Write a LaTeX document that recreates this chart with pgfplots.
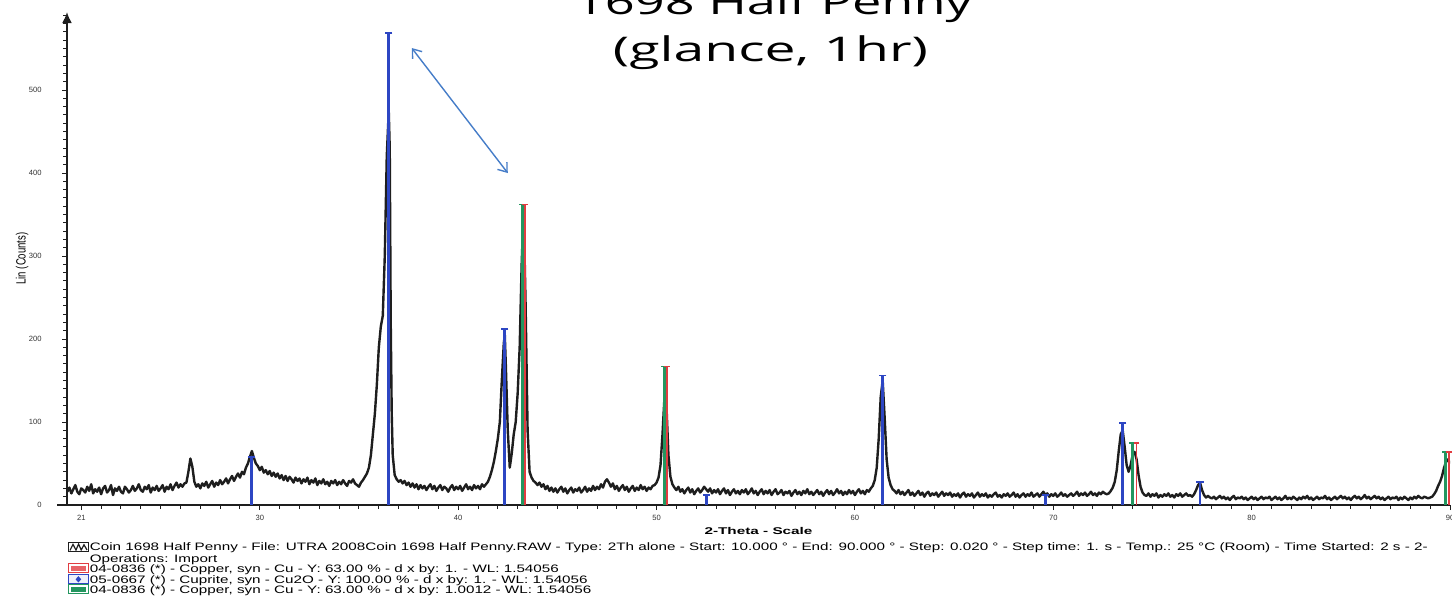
\documentclass[border=0pt]{standalone}
\usepackage{fontspec}
\setmainfont{Liberation Sans}
\newfontfamily\titlefont{Open Sans}
\usepackage{graphicx}
\usepackage{pgfplots}
\pgfplotsset{compat=1.18}
\usetikzlibrary{arrows.meta}
\definecolor{trace}{RGB}{30,30,30}
\definecolor{cuBlue}{RGB}{45,70,195}
\definecolor{cuRed}{RGB}{225,60,65}
\definecolor{cuGreen}{RGB}{35,150,95}
\definecolor{annot}{RGB}{70,125,200}
\newcommand\legfont{\fontsize{5.4}{6}\selectfont}
\newlength\Lw
\newcommand\lineone{Coin 1698 Half Penny - File: UTRA 2008Coin 1698 Half Penny.RAW - Type: 2Th alone - Start: 10.000 ° - End: 90.000 ° - Step: 0.020 ° - Step time: 1. s - Temp.: 25 °C (Room) - Time Started: 2 s - 2-}
\begin{document}
\settowidth{\Lw}{\legfont\lineone}%
\pgfmathsetmacro{\legscale}{669/\Lw}%
\begin{tikzpicture}
\path[use as bounding box] (0,0) rectangle (726pt,300pt);
\begin{axis}[
  at={(33.5pt,47.5pt)}, anchor=south west,
  scale only axis, width=691.5pt, height=246.5pt,
  xmin=20.28, xmax=90, ymin=0, ymax=594,
  axis x line=bottom, axis y line=left,
  axis line style={line width=1pt, trace},
  x axis line style={-, shorten <=-5pt},
  y axis line style={-{Latex[length=5.5pt,width=5pt]}},
  xtick={21,30,40,50,60,70,80,90},
  minor xtick={21,22,...,90},
  ytick={0,100,...,500},
  minor ytick={0,10,...,590},
  tick align=outside,
  major tick length=2.5pt, minor tick length=2pt,
  tick style={trace, line width=0.5pt},
  /pgf/number format/assume math mode=true,
  tick label style={font=\fontsize{3.8}{4}\selectfont, text=black!80, inner sep=0pt},
  yticklabel style={anchor=east, xshift=-10pt},
  xticklabel style={anchor=north, yshift=-2.2pt},
  xlabel={\resizebox{54pt}{\height}{\bfseries\fontsize{4.9}{5}\selectfont 2-Theta - Scale}},
  xlabel style={at={(axis description cs:0.5,0)}, anchor=base, yshift=-14.75pt, inner sep=0pt},
  ylabel={\resizebox{26pt}{1.4\height}{\fontsize{4.8}{5}\selectfont Lin (Counts)}},
  ylabel style={at={(axis description cs:-0.0325,0.5)}, anchor=center, inner sep=0pt},
]
\addplot[line width=1.2pt, color=trace, line join=round] coordinates {
(20.3,16) (20.4,21) (20.5,14) (20.6,19) (20.7,24) (20.8,16) (20.9,13) (21.0,20) (21.1,18) (21.2,15)
(21.3,22) (21.4,17) (21.5,25) (21.6,14) (21.7,19) (21.8,16) (21.9,21) (22.0,13) (22.1,20) (22.2,23)
(22.3,15) (22.4,18) (22.5,24) (22.6,12) (22.7,20) (22.8,17) (22.9,22) (23.0,16) (23.1,14) (23.2,22)
(23.3,19) (23.4,15) (23.5,18) (23.6,23) (23.7,17) (23.8,20) (23.9,25) (24.0,18) (24.1,16) (24.2,22)
(24.3,19) (24.4,24) (24.5,15) (24.6,21) (24.7,18) (24.8,23) (24.9,17) (25.0,20) (25.1,24) (25.2,16)
(25.3,22) (25.4,19) (25.5,25) (25.6,18) (25.7,23) (25.8,27) (25.9,21) (26.0,25) (26.1,22) (26.2,26)
(26.3,27) (26.4,40) (26.5,56) (26.6,46) (26.7,28) (26.8,22) (26.9,25) (27.0,20) (27.1,26) (27.2,23)
(27.3,28) (27.4,21) (27.5,25) (27.6,29) (27.7,22) (27.8,27) (27.9,24) (28.0,30) (28.1,25) (28.2,28)
(28.3,32) (28.4,26) (28.5,31) (28.6,35) (28.7,29) (28.8,34) (28.9,38) (29.0,33) (29.1,40) (29.2,37)
(29.3,45) (29.4,50) (29.5,58) (29.6,65) (29.7,57) (29.8,50) (29.9,47) (30.0,42) (30.1,46) (30.2,39)
(30.3,42) (30.4,37) (30.5,41) (30.6,35) (30.7,39) (30.8,34) (30.9,38) (31.0,32) (31.1,36) (31.2,30)
(31.3,35) (31.4,29) (31.5,34) (31.6,31) (31.7,27) (31.8,33) (31.9,29) (32.0,32) (32.1,26) (32.2,31)
(32.3,28) (32.4,33) (32.5,25) (32.6,30) (32.7,27) (32.8,32) (32.9,24) (33.0,29) (33.1,26) (33.2,31)
(33.3,25) (33.4,28) (33.5,23) (33.6,29) (33.7,26) (33.8,30) (33.9,24) (34.0,28) (34.1,25) (34.2,30)
(34.3,26) (34.4,23) (34.5,29) (34.6,27) (34.7,31) (34.8,26) (34.9,24) (35.0,22) (35.1,27) (35.2,30)
(35.3,34) (35.4,38) (35.5,45) (35.6,60) (35.7,85) (35.8,110) (35.9,145) (36.0,190) (36.1,215) (36.2,228)
(36.3,300) (36.4,420) (36.5,475) (36.55,430) (36.6,220) (36.65,110) (36.7,60) (36.8,36) (36.9,31) (37.0,28)
(37.1,30) (37.2,26) (37.3,29) (37.4,24) (37.5,27) (37.6,22) (37.7,26) (37.8,21) (37.9,25) (38.0,19)
(38.1,24) (38.2,20) (38.3,23) (38.4,18) (38.5,22) (38.6,25) (38.7,19) (38.8,23) (38.9,17) (39.0,21)
(39.1,24) (39.2,18) (39.3,22) (39.4,20) (39.5,16) (39.6,21) (39.7,24) (39.8,18) (39.9,22) (40.0,19)
(40.1,23) (40.2,17) (40.3,21) (40.4,25) (40.5,19) (40.6,22) (40.7,18) (40.8,24) (40.9,20) (41.0,23)
(41.1,19) (41.2,25) (41.3,22) (41.4,25) (41.5,28) (41.6,34) (41.7,42) (41.8,52) (41.9,65) (42.0,80)
(42.1,100) (42.2,150) (42.3,195) (42.35,205) (42.4,170) (42.5,90) (42.6,45) (42.7,62) (42.8,85) (42.9,100)
(43.0,135) (43.1,190) (43.2,290) (43.3,358) (43.4,240) (43.5,90) (43.6,40) (43.7,33) (43.8,29) (43.9,27)
(44.0,24) (44.1,27) (44.2,22) (44.3,25) (44.4,19) (44.5,23) (44.6,17) (44.7,21) (44.8,16) (44.9,20)
(45.0,15) (45.1,19) (45.2,22) (45.3,16) (45.4,20) (45.5,14) (45.6,18) (45.7,21) (45.8,15) (45.9,19)
(46.0,17) (46.1,21) (46.2,15) (46.3,18) (46.4,22) (46.5,16) (46.6,20) (46.7,17) (46.8,23) (46.9,18)
(47.0,22) (47.1,19) (47.2,25) (47.3,21) (47.4,28) (47.5,31) (47.6,27) (47.7,22) (47.8,26) (47.9,19)
(48.0,23) (48.1,17) (48.2,21) (48.3,24) (48.4,18) (48.5,22) (48.6,16) (48.7,20) (48.8,23) (48.9,17)
(49.0,21) (49.1,18) (49.2,24) (49.3,19) (49.4,22) (49.5,17) (49.6,21) (49.7,19) (49.8,23) (49.9,24)
(50.0,27) (50.1,33) (50.2,48) (50.3,85) (50.4,130) (50.45,141) (50.5,120) (50.6,60) (50.7,34) (50.8,25)
(50.9,21) (51.0,18) (51.1,22) (51.2,16) (51.3,19) (51.4,14) (51.5,18) (51.6,21) (51.7,15) (51.8,19)
(51.9,13) (52.0,17) (52.1,20) (52.2,15) (52.3,18) (52.4,22) (52.5,19) (52.6,16) (52.7,20) (52.8,14)
(52.9,18) (53.0,15) (53.1,19) (53.2,13) (53.3,17) (53.4,20) (53.5,14) (53.6,18) (53.7,12) (53.8,16)
(53.9,19) (54.0,14) (54.1,17) (54.2,13) (54.3,18) (54.4,15) (54.5,19) (54.6,13) (54.7,16) (54.8,20)
(54.9,14) (55.0,17) (55.1,12) (55.2,16) (55.3,19) (55.4,13) (55.5,17) (55.6,14) (55.7,18) (55.8,12)
(55.9,16) (56.0,19) (56.1,13) (56.2,15) (56.3,18) (56.4,12) (56.5,16) (56.6,14) (56.7,17) (56.8,11)
(56.9,15) (57.0,18) (57.1,13) (57.2,16) (57.3,12) (57.4,17) (57.5,14) (57.6,19) (57.7,13) (57.8,16)
(57.9,12) (58.0,15) (58.1,18) (58.2,13) (58.3,16) (58.4,11) (58.5,15) (58.6,18) (58.7,13) (58.8,17)
(58.9,12) (59.0,15) (59.1,19) (59.2,14) (59.3,17) (59.4,12) (59.5,16) (59.6,13) (59.7,18) (59.8,14)
(59.9,17) (60.0,12) (60.1,16) (60.2,19) (60.3,14) (60.4,17) (60.5,13) (60.6,18) (60.7,16) (60.8,20)
(60.9,23) (61.0,30) (61.1,45) (61.2,80) (61.3,130) (61.4,150) (61.5,105) (61.6,55) (61.7,33) (61.8,24)
(61.9,19) (62.0,17) (62.1,14) (62.2,18) (62.3,13) (62.4,16) (62.5,12) (62.6,15) (62.7,18) (62.8,12)
(62.9,15) (63.0,11) (63.1,14) (63.2,17) (63.3,12) (63.4,15) (63.5,10) (63.6,14) (63.7,16) (63.8,11)
(63.9,14) (64.0,12) (64.1,15) (64.2,10) (64.3,13) (64.4,16) (64.5,11) (64.6,14) (64.7,12) (64.8,15)
(64.9,10) (65.0,13) (65.1,11) (65.2,14) (65.3,9) (65.4,13) (65.5,15) (65.6,10) (65.7,13) (65.8,11)
(65.9,14) (66.0,9) (66.1,12) (66.2,15) (66.3,10) (66.4,13) (66.5,11) (66.6,14) (66.7,9) (66.8,12)
(66.9,10) (67.0,13) (67.1,15) (67.2,10) (67.3,12) (67.4,9) (67.5,13) (67.6,11) (67.7,14) (67.8,10)
(67.9,12) (68.0,15) (68.1,10) (68.2,13) (68.3,9) (68.4,12) (68.5,14) (68.6,10) (68.7,13) (68.8,11)
(68.9,15) (69.0,10) (69.1,12) (69.2,14) (69.3,10) (69.4,13) (69.5,16) (69.6,12) (69.7,14) (69.8,10)
(69.9,13) (70.0,11) (70.1,14) (70.2,10) (70.3,12) (70.4,15) (70.5,11) (70.6,13) (70.7,10) (70.8,12)
(70.9,14) (71.0,11) (71.1,13) (71.2,16) (71.3,11) (71.4,14) (71.5,12) (71.6,15) (71.7,11) (71.8,13)
(71.9,16) (72.0,12) (72.1,14) (72.2,11) (72.3,15) (72.4,13) (72.5,16) (72.6,14) (72.7,13) (72.8,14)
(72.9,17) (73.0,21) (73.1,28) (73.2,42) (73.3,65) (73.4,85) (73.5,90) (73.6,70) (73.7,48) (73.8,40)
(73.9,48) (74.0,60) (74.1,64) (74.2,55) (74.3,36) (74.4,22) (74.5,15) (74.6,12) (74.7,11) (74.8,14)
(74.9,10) (75.0,13) (75.1,11) (75.2,14) (75.3,9) (75.4,12) (75.5,10) (75.6,13) (75.7,11) (75.8,14)
(75.9,10) (76.0,12) (76.1,9) (76.2,13) (76.3,11) (76.4,14) (76.5,10) (76.6,12) (76.7,14) (76.8,11)
(76.9,12) (77.0,10) (77.1,13) (77.2,18) (77.3,24) (77.4,27) (77.5,18) (77.6,12) (77.7,9) (77.8,11)
(77.9,9) (78.0,8) (78.1,10) (78.2,7) (78.3,9) (78.4,11) (78.5,8) (78.6,10) (78.7,7) (78.8,9)
(78.9,6) (79.0,9) (79.1,11) (79.2,7) (79.3,9) (79.4,8) (79.5,10) (79.6,7) (79.7,9) (79.8,6)
(79.9,8) (80.0,10) (80.1,7) (80.2,9) (80.3,6) (80.4,8) (80.5,10) (80.6,7) (80.7,9) (80.8,8)
(80.9,10) (81.0,6) (81.1,8) (81.2,10) (81.3,7) (81.4,9) (81.5,6) (81.6,8) (81.7,11) (81.8,7)
(81.9,9) (82.0,7) (82.1,10) (82.2,8) (82.3,6) (82.4,9) (82.5,7) (82.6,10) (82.7,8) (82.8,11)
(82.9,7) (83.0,9) (83.1,6) (83.2,8) (83.3,10) (83.4,7) (83.5,9) (83.6,8) (83.7,11) (83.8,7)
(83.9,9) (84.0,6) (84.1,8) (84.2,10) (84.3,7) (84.4,9) (84.5,11) (84.6,8) (84.7,10) (84.8,7)
(84.9,9) (85.0,6) (85.1,9) (85.2,11) (85.3,8) (85.4,10) (85.5,7) (85.6,9) (85.7,12) (85.8,8)
(85.9,10) (86.0,7) (86.1,9) (86.2,11) (86.3,8) (86.4,10) (86.5,7) (86.6,9) (86.7,6) (86.8,8)
(86.9,10) (87.0,7) (87.1,9) (87.2,8) (87.3,10) (87.4,6) (87.5,9) (87.6,7) (87.7,10) (87.8,8)
(87.9,6) (88.0,9) (88.1,7) (88.2,10) (88.3,8) (88.4,11) (88.5,9) (88.6,8) (88.7,10) (88.8,9)
(88.9,8) (89.0,9) (89.1,10) (89.2,13) (89.3,17) (89.4,23) (89.5,28) (89.6,35) (89.7,45) (89.8,52)
(89.9,55) (90.0,50)
};
% Cuprite (blue)
\addplot[ycomb, line width=1.4pt, color=cuBlue, mark=-, mark size=1.8pt, mark options={line width=0.8pt}] coordinates {
(29.6,58) (36.5,569) (42.35,212) (52.5,12) (61.4,156) (69.6,12) (73.5,99) (77.4,28)};
% Copper, d x by 1.0012 (green)
\addplot[ycomb, line width=1.2pt, color=cuGreen, mark=-, mark size=1.6pt, mark options={line width=0.8pt}] coordinates {
(43.25,362) (50.4,167) (74.0,75) (89.78,64)};
% Copper (red)
\addplot[ycomb, line width=0.9pt, color=cuRed, mark=-, mark size=1.4pt, mark options={line width=0.8pt}] coordinates {
(43.38,362) (50.53,167) (74.2,75) (89.95,64)};
\draw[annot, line width=0.7pt, {Straight Barb[length=4pt,width=6pt]}-{Straight Barb[length=4pt,width=6pt]}]
  (axis cs:37.66,550.6) -- (axis cs:42.5,400);
\end{axis}
% title
\node[anchor=base, inner sep=0pt] at (386.75pt,292.5pt) {\resizebox{198.5pt}{\height}{\titlefont\fontsize{17}{20}\selectfont 1698 Half Penny}};
\node[anchor=base, inner sep=0pt] at (385.25pt,269pt) {\resizebox{157.5pt}{\height}{\titlefont\fontsize{17}{20}\selectfont (glance, 1hr)}};
% legend text
\node[anchor=base west, inner sep=0pt] at (44.7pt,24.6pt) {\scalebox{\legscale}[1]{\legfont\lineone}};
\node[anchor=base west, inner sep=0pt] at (44.7pt,18.95pt) {\scalebox{\legscale}[1]{\legfont Operations: Import}};
\node[anchor=base west, inner sep=0pt] at (44.7pt,13.95pt) {\scalebox{\legscale}[1]{\legfont 04-0836 (*) - Copper, syn - Cu - Y: 63.00 \% - d x by: 1. - WL: 1.54056}};
\node[anchor=base west, inner sep=0pt] at (44.7pt,8.45pt) {\scalebox{\legscale}[1]{\legfont 05-0667 (*) - Cuprite, syn - Cu2O - Y: 100.00 \% - d x by: 1. - WL: 1.54056}};
\node[anchor=base west, inner sep=0pt] at (44.7pt,3.45pt) {\scalebox{\legscale}[1]{\legfont 04-0836 (*) - Copper, syn - Cu - Y: 63.00 \% - d x by: 1.0012 - WL: 1.54056}};
% legend icons
\draw[trace, line width=0.5pt, fill=white] (34.2pt,24.3pt) rectangle (44.2pt,28.7pt);
\draw[trace, line width=0.6pt] (35pt,24.8pt) -- (36.5pt,27.8pt) -- (38pt,25pt) -- (39.3pt,28pt) -- (40.6pt,25pt) -- (42pt,27.6pt) -- (43.5pt,25pt);
\draw[cuRed, line width=0.6pt, fill=white] (34.2pt,13.65pt) rectangle (44.2pt,18.05pt);
\fill[cuRed!80] (35.4pt,14.6pt) rectangle (43pt,17.1pt);
\draw[cuBlue, line width=0.6pt, fill=cuBlue!8] (34.2pt,8.15pt) rectangle (44.2pt,12.55pt);
\fill[cuBlue] (39.2pt,8.75pt) -- (40.6pt,10.35pt) -- (39.2pt,11.95pt) -- (37.8pt,10.35pt) -- cycle;
\draw[cuGreen, line width=0.6pt, fill=white] (34.2pt,3.15pt) rectangle (44.2pt,7.55pt);
\fill[cuGreen] (35.4pt,4.1pt) rectangle (43pt,6.6pt);
\end{tikzpicture}
\end{document}
